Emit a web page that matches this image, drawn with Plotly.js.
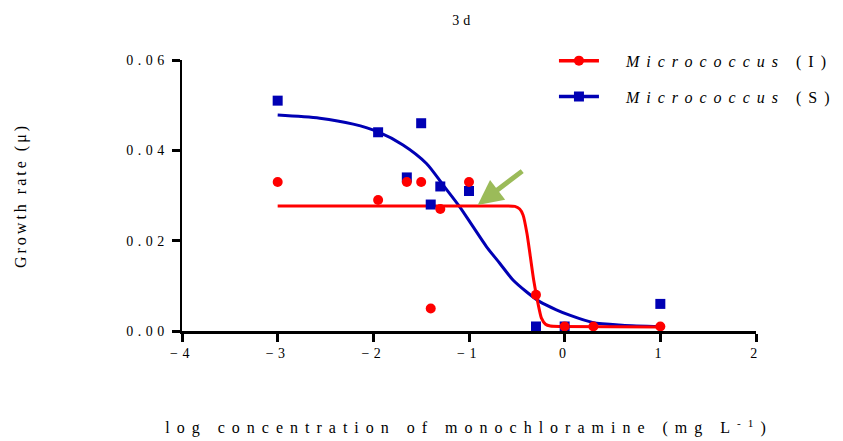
<!DOCTYPE html>
<html>
<head>
<meta charset="utf-8">
<script src="https://cdn.plot.ly/plotly-3.0.1.min.js"></script>
<style>
  html, body { margin: 0; padding: 0; background: #fff; }
  #chart { width: 843px; height: 441px; }
  .xtick text, .ytick text { letter-spacing: 4.5px; }
  .g-xtitle text { letter-spacing: 7px; }
  .g-ytitle text { letter-spacing: 3px; }
  .gtitle { letter-spacing: 4px; }
  .legendtext { letter-spacing: 7px; }
</style>
</head>
<body>
<div id="chart"></div>
<script>
// Observed data points (log concentration vs growth rate)
const redX = [-3, -1.95, -1.65, -1.5, -1.4, -1.3, -1, -0.3, 0, 0.3, 1];
const redY = [0.033, 0.029, 0.033, 0.033, 0.005, 0.027, 0.033, 0.008, 0.001, 0.001, 0.001];
const blueX = [-3, -1.95, -1.65, -1.5, -1.4, -1.3, -1, -0.3, 0, 1];
const blueY = [0.051, 0.044, 0.034, 0.046, 0.028, 0.032, 0.031, 0.001, 0.001, 0.006];

// Fitted curves
const redFitX = [-3, -0.6, -0.52, -0.47, -0.435, -0.394, -0.359, -0.324, -0.279, -0.244, -0.2, -0.15, -0.05, 1];
const redFitY = [0.0277, 0.0277, 0.0276, 0.0270, 0.0257, 0.0216, 0.0165, 0.0113, 0.0061, 0.0029, 0.0015, 0.0011, 0.0010, 0.0009];
const blueFitX = [-3, -2.56, -2.21, -1.95, -1.69, -1.445, -1.27, -1.097, -0.958, -0.818, -0.679, -0.54, -0.40, -0.261, -0.087, 0.052, 0.29, 0.6, 1];
const blueFitY = [0.0478, 0.0471, 0.0458, 0.0441, 0.0412, 0.0371, 0.0323, 0.0275, 0.0231, 0.0187, 0.0150, 0.0113, 0.0087, 0.0065, 0.0047, 0.0035, 0.0019, 0.0013, 0.0010];

const seriesNames = ['\u00a0\u00a0<i>Micrococcus</i> (I)', '\u00a0\u00a0<i>Micrococcus</i> (S)'];
const xTicks = [-4, -3, -2, -1, 0, 1, 2];
const yTicks = [0, 0.02, 0.04, 0.06];

const RED = '#ff0000';
const BLUE = '#0000b4';
const FONT = 'Liberation Serif, Times New Roman, serif';

const traces = [
  { x: blueFitX, y: blueFitY, mode: 'lines', line: { color: BLUE, width: 3, shape: 'spline', smoothing: 0.8 }, showlegend: false, hoverinfo: 'skip', cliponaxis: false },
  { x: redFitX, y: redFitY, mode: 'lines', line: { color: RED, width: 3, shape: 'spline', smoothing: 0.5 }, showlegend: false, hoverinfo: 'skip', cliponaxis: false },
  { x: blueX, y: blueY, mode: 'markers', marker: { symbol: 'square', size: 10, color: BLUE }, showlegend: false, cliponaxis: false },
  { x: redX, y: redY, mode: 'markers', marker: { symbol: 'circle', size: 10, color: RED }, showlegend: false, cliponaxis: false },
  { x: [null], y: [null], name: seriesNames[0], legendgroup: 'a', mode: 'lines+markers', line: { color: RED, width: 3.5 }, marker: { symbol: 'circle', size: 10, color: RED } },
  { x: [null], y: [null], name: seriesNames[1], legendgroup: 'b', mode: 'lines+markers', line: { color: BLUE, width: 3.5 }, marker: { symbol: 'square', size: 10, color: BLUE } }
];

const layout = {
  width: 843, height: 441,
  margin: { l: 182, r: 87, t: 60, b: 110, autoexpand: false },
  paper_bgcolor: '#fff', plot_bgcolor: '#fff',
  font: { family: FONT, color: '#000', size: 14 },
  title: { text: '3d', x: 0.49, xref: 'paper', y: 1 - 20 / 441, yref: 'container', yanchor: 'middle', font: { size: 14, family: FONT } },
  xaxis: {
    range: [-4, 2], tickvals: xTicks, ticks: 'outside', ticklen: 8, tickwidth: 3, tickcolor: '#000',
    showline: true, linewidth: 2.5, linecolor: '#000', showgrid: false, zeroline: false,
    tickfont: { size: 14, family: FONT },
    title: { text: 'log concentration of monochloramine (mg L<sup>-1</sup>)', standoff: 62, font: { size: 16, family: FONT } }
  },
  yaxis: {
    range: [0, 0.06], tickvals: yTicks, tickformat: '.2f', ticks: 'outside', ticklen: 8, tickwidth: 3, tickcolor: '#000',
    showline: true, linewidth: 2.5, linecolor: '#000', showgrid: false, zeroline: false,
    tickfont: { size: 14, family: FONT },
    title: { text: 'Growth rate (μ)', standoff: 96, font: { size: 16, family: FONT } }
  },
  legend: {
    x: 0.648, xanchor: 'left', y: 1.06, yanchor: 'top',
    font: { size: 16, family: FONT }, tracegroupgap: 12, itemwidth: 40,
    bgcolor: 'rgba(0,0,0,0)'
  },
  annotations: [{
    x: -0.909, y: 0.0279, xref: 'x', yref: 'y', text: '', showarrow: true,
    ax: 46, ay: -35, arrowcolor: '#9bbb59', arrowwidth: 5, arrowhead: 2, arrowsize: 1, standoff: 0
  }]
};

Plotly.newPlot('chart', traces, layout, { displayModeBar: false, staticPlot: true });
</script>
</body>
</html>
